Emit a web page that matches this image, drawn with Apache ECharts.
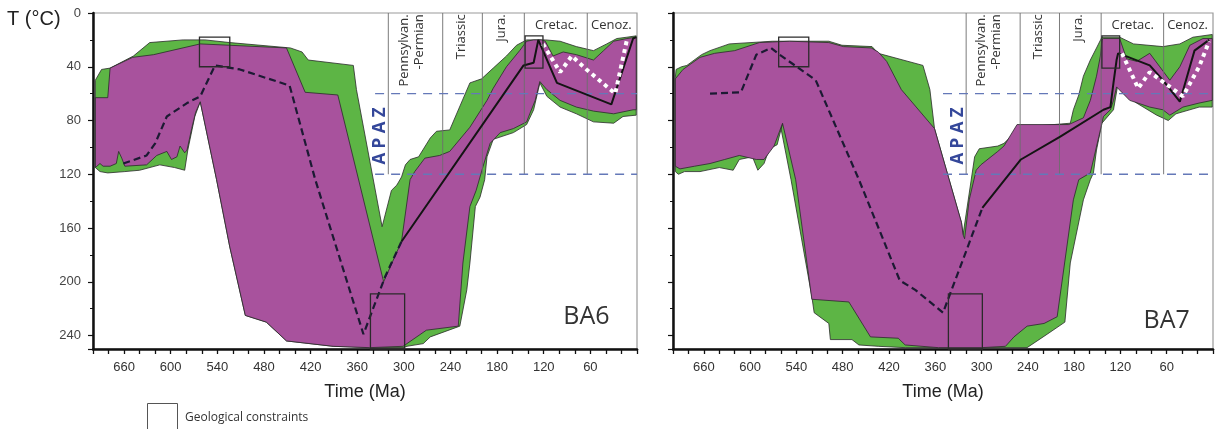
<!DOCTYPE html>
<html><head><meta charset="utf-8">
<script src="https://cdn.jsdelivr.net/npm/echarts@6/dist/echarts.min.js"></script>
<style>html,body{margin:0;padding:0;background:#fff}#c{width:1216px;height:429px}</style>
</head><body><div id="c"></div>
<script>
// ---------- DATA (time in Ma, temperature in °C) ----------
const ba6Acceptable = [[697,50],[689,42],[678,41],[648,32],[627,22],[584,20],[556,20],[524,22],[446,26],[431,29],[423,35],[365,39],[361,57],[328,159],[316,132],[309,128],[303,122],[298,113],[292,109],[281,107],[266,93],[258,88],[241,87],[215,52],[200,49],[185,41],[168,32],[155,24],[142,20],[123,20],[118,20],[99,21],[78,25],[56,28],[39,23],[26,19],[13,18],[1,17],[1,76],[18,77],[30,82],[56,81],[78,75],[99,70],[116,62],[125,52],[127,57],[133,72],[142,83],[159,89],[185,94],[193,107],[196,124],[202,137],[208,144],[215,186],[219,206],[228,233],[266,241],[275,246],[296,248],[301,249],[344,249],[391,248],[451,244],[477,230],[504,225],[524,174],[541,124],[562,66],[569,77],[578,102],[582,117],[595,115],[614,113],[640,117],[659,118],[681,119],[691,118],[697,115]];
const ba6Good = [[697,63],[681,63],[678,41],[649,33],[622,31],[562,23],[524,24],[451,26],[427,59],[385,61],[326,200],[303,170],[292,124],[286,118],[273,108],[254,106],[241,103],[215,85],[193,65],[185,56],[168,40],[151,28],[142,21],[133,20],[123,20],[118,21],[108,32],[95,29],[78,31],[56,35],[43,28],[30,21],[13,19],[1,18],[1,72],[5,72],[30,75],[56,73],[78,70],[99,65],[116,57],[125,51],[131,65],[138,75],[142,81],[159,86],[176,89],[189,97],[198,114],[207,132],[215,144],[224,186],[230,233],[271,236],[296,246],[301,248],[344,249],[391,248],[451,244],[477,230],[504,225],[524,174],[541,124],[562,66],[568,74],[573,86],[579,102],[582,104],[588,99],[592,107],[599,109],[605,103],[618,106],[631,113],[659,114],[663,108],[667,103],[670,112],[678,114],[687,114],[691,112],[697,115]];
const ba6MeanPath = [[661,112],[631,106],[620,97],[605,77],[579,67],[562,62],[543,39],[511,42],[447,54],[414,124],[352,239],[324,196],[303,170]];
const ba6BestPath = [[303,170],[146,39],[133,37],[127,20],[103,52],[33,68],[5,19],[1,18]];
const ba6LatePath = [[121,23],[99,44],[84,32],[65,42],[28,60],[13,20]];

const ba7Acceptable = [[697,48],[696,42],[689,40],[682,39],[663,31],[652,28],[627,23],[571,21],[498,21],[481,24],[442,25],[434,30],[376,39],[367,57],[361,86],[326,156],[324,165],[309,107],[303,101],[279,99],[271,97],[249,85],[185,82],[181,72],[174,61],[168,47],[159,35],[151,26],[144,18],[121,18],[103,23],[65,25],[43,23],[26,18],[1,16],[1,70],[18,70],[48,75],[58,80],[73,76],[99,67],[116,60],[123,52],[129,72],[144,82],[151,102],[155,119],[159,124],[168,139],[185,186],[192,230],[215,239],[241,249],[356,249],[399,249],[434,248],[459,247],[468,243],[496,243],[498,231],[517,223],[520,211],[547,124],[560,86],[558,82],[565,98],[575,101],[582,112],[590,117],[597,107],[614,109],[622,117],[640,115],[665,118],[685,118],[693,120],[697,118]];
const ba7Good = [[697,49],[687,42],[665,33],[646,30],[620,28],[588,22],[549,21],[498,22],[479,25],[443,26],[434,29],[423,36],[404,57],[361,86],[326,156],[324,165],[322,168],[316,139],[307,117],[301,113],[279,103],[271,99],[254,83],[187,83],[168,78],[159,65],[151,47],[146,32],[144,20],[142,19],[121,19],[112,34],[99,36],[82,30],[69,40],[56,50],[43,40],[30,24],[13,19],[1,19],[1,65],[18,67],[39,70],[56,76],[65,72],[82,70],[108,65],[125,55],[129,65],[133,72],[142,77],[148,92],[159,119],[174,124],[181,139],[202,226],[219,231],[241,233],[258,241],[269,248],[300,249],[356,249],[399,247],[408,242],[444,241],[472,215],[520,213],[541,124],[558,82],[569,99],[582,109],[592,109],[614,106],[633,109],[652,112],[672,114],[691,116],[697,114]];
const ba7MeanPath = [[652,60],[612,59],[592,31],[573,26],[562,31],[537,41],[515,50],[459,124],[406,199],[386,206],[350,223],[329,191],[299,145]];
const ba7BestPath = [[299,145],[249,109],[198,92],[142,72],[133,70],[129,52],[125,35],[123,30],[118,31],[82,39],[65,50],[43,66],[30,40],[24,28],[5,20]];
const ba7LatePath = [[118,30],[97,56],[82,44],[39,62],[18,40],[5,21]];

// geological constraint boxes: [oldMa, minT, youngMa, maxT]
const constraintBoxes = [[563,18,524,40],[343,209,299,250],[144,17,121,41]];
const periodBoundaries = [320,250,199,145,64];
const periodNames = ['Pennsylvan.\n-Permian','Triassic','Jura.','Cretac.','Cenoz.'];
const apazLimits = [60,120];
const apazStart = [337,350];
const xTickLabels = [660,600,540,480,420,360,300,240,180,120,60];
const yTickLabels = [0,40,80,120,160,200,240];
const panelNames = ['BA6','BA7'];

// ---------- LAYOUT / STYLE ----------
const GREEN = '#5db545', MAGENTA = '#a8529d', OUTLINE = '#2a2a2a';
const periodLabelAnchors = [
  {pos:[290,1], rot:true}, {pos:[226,1], rot:true}, {pos:[174,1], rot:true},
  {pos:[104,9], rot:false}, {pos:[33,9], rot:false}
];
const apazLabelAnchor = [330,91.5];
const panelLabelAnchors = [[65,226],[60,229]];

function polySeries(gi, pts, fill) {
  return {type:'custom', xAxisIndex:gi, yAxisIndex:gi, silent:true, clip:true, data:pts,
    renderItem:(p, api) => {
      if (p.dataIndex !== 0) return null;
      return {type:'polygon', shape:{points: pts.map(q => api.coord(q))},
        style:{fill:fill, stroke:OUTLINE, lineWidth:0.8}};
    }};
}
function pathSeries(gi, pts, style) {
  return {type:'line', xAxisIndex:gi, yAxisIndex:gi, data:pts, symbol:'none', silent:true,
    animation:false, lineStyle:style, z:5};
}
function periodLinesSeries(gi) {
  return {type:'custom', xAxisIndex:gi, yAxisIndex:gi, silent:true, clip:true,
    data: periodBoundaries.map(m => [m, 0]), z:3,
    renderItem:(p, api) => {
      const m = periodBoundaries[p.dataIndex];
      const a = api.coord([m, 0]), b = api.coord([m, apazLimits[1]]);
      return {type:'line', shape:{x1:a[0], y1:a[1], x2:b[0], y2:b[1]},
        style:{stroke:'#6e6e6e', lineWidth:1, opacity:0.9}};
    }};
}
function boxSeries(gi) {
  return {type:'custom', xAxisIndex:gi, yAxisIndex:gi, silent:true, clip:false,
    data: constraintBoxes.map(b => [b[0], b[1]]), z:6,
    renderItem:(p, api) => {
      const b = constraintBoxes[p.dataIndex];
      const a = api.coord([b[0], b[1]]), c = api.coord([b[2], b[3]]);
      return {type:'rect', shape:{x:a[0], y:a[1], width:c[0]-a[0], height:c[1]-a[1]},
        style:{fill:'none', stroke:'#2b2b2b', lineWidth:1.3}};
    }};
}
function apazSeries(gi) {
  return apazLimits.map(t => ({type:'line', xAxisIndex:gi, yAxisIndex:gi, silent:true, symbol:'none',
    data:[[apazStart[gi], t],[0, t]], z:4,
    lineStyle:{color:'#6478b8', width:1.4, type:[9,7]}}));
}
function labelSeries(gi) {
  const items = periodLabelAnchors.map((a, i) => ({pos:a.pos, rot:a.rot, text:periodNames[i], kind:'period'}));
  items.push({pos:apazLabelAnchor, rot:true, text:'A P A Z', kind:'apaz'});
  items.push({pos:panelLabelAnchors[gi], rot:false, text:panelNames[gi], kind:'panel'});
  return {type:'custom', xAxisIndex:gi, yAxisIndex:gi, silent:true, clip:false,
    data: items.map(it => it.pos), z:7,
    renderItem:(p, api) => {
      const it = items[p.dataIndex];
      const c = api.coord(it.pos);
      let style;
      if (it.kind === 'period') {
        style = {text:it.text, fill:'#333', fontSize:13, fontFamily:'Open Sans',
          align: it.rot ? 'right' : 'center', verticalAlign:'middle', lineHeight:15};
      } else if (it.kind === 'apaz') {
        style = {text:it.text, fill:'#34479a', fontSize:17, fontWeight:'bold', fontFamily:'Open Sans',
          align:'center', verticalAlign:'middle'};
      } else {
        style = {text:it.text, fill:'#333', fontSize:25, fontFamily:'Open Sans',
          align:'center', verticalAlign:'middle'};
      }
      return {type:'text', x:c[0], y:c[1], rotation: it.rot ? Math.PI/2 : 0, style:style};
    }};
}

function xAxis(gi) {
  return {type:'value', gridIndex:gi, min:0, max:700, interval:20, inverse:true,
    name:'Time (Ma)', nameLocation:'middle', nameGap:34,
    nameTextStyle:{fontSize:18, color:'#222', fontFamily:'Liberation Sans'},
    axisLine:{show:true, onZero:false, lineStyle:{color:'#111', width:2.5}},
    axisTick:{show:true, length:5, lineStyle:{color:'#111', width:1.3}},
    splitLine:{show:false},
    axisLabel:{formatter: v => xTickLabels.includes(v) ? String(v) : '',
      color:'#333', fontSize:13, fontFamily:'Liberation Sans', margin:12}};
}
function yAxis(gi) {
  return {type:'value', gridIndex:gi, min:0, max:250, interval:40, inverse:true,
    axisLine:{show:true, onZero:false, lineStyle:{color:'#111', width:2.5}},
    axisTick:{show:true, length:5, lineStyle:{color:'#111', width:1.2}},
    minorTick:{show:true, splitNumber:2, length:3, lineStyle:{color:'#111', width:1}},
    splitLine:{show:false},
    axisLabel:{show: gi === 0, formatter: v => yTickLabels.includes(v) ? String(v) : '',
      color:'#444', fontSize:13, fontFamily:'Liberation Sans', margin:12}};
}

const series = [];
[[ba6Acceptable, ba6Good, ba6MeanPath, ba6BestPath, ba6LatePath],
 [ba7Acceptable, ba7Good, ba7MeanPath, ba7BestPath, ba7LatePath]].forEach((d, gi) => {
  series.push(polySeries(gi, d[0], GREEN));
  series.push(polySeries(gi, d[1], MAGENTA));
  series.push(periodLinesSeries(gi));
  series.push(...apazSeries(gi));
  series.push(boxSeries(gi));
  series.push(pathSeries(gi, d[2], {color:'#1c1a33', width:2.2, type:[7,4]}));
  series.push(pathSeries(gi, d[3], {color:'#141414', width:2}));
  series.push(pathSeries(gi, d[4], {color:'#ffffff', width:4, type:[4,4], cap:'butt'}));
  series.push(labelSeries(gi));
});

const chart = echarts.init(document.getElementById('c'), null, {renderer:'canvas'});
chart.setOption({
  animation:false,
  backgroundColor:'#fff',
  grid:[
    {left:93, top:13, width:544, height:336, show:true, borderColor:'#9a9a9a', borderWidth:1.2, backgroundColor:'transparent'},
    {left:673, top:13, width:544, height:336, show:true, borderColor:'#9a9a9a', borderWidth:1.2, backgroundColor:'transparent'}
  ],
  xAxis:[xAxis(0), xAxis(1)],
  yAxis:[yAxis(0), yAxis(1)],
  series: series,
  graphic:[
    {type:'text', left:7, top:9, style:{text:'T (°C)', fontSize:20, fill:'#222', fontFamily:'Liberation Sans'}},
    {type:'rect', left:145, top:401, shape:{x:0, y:0, width:30, height:32}, style:{fill:'none', stroke:'#555', lineWidth:1}},
    {type:'text', left:185, top:412, style:{text:'Geological constraints', fontSize:12, fill:'#333', fontFamily:'Open Sans'}}
  ]
});
</script></body></html>
